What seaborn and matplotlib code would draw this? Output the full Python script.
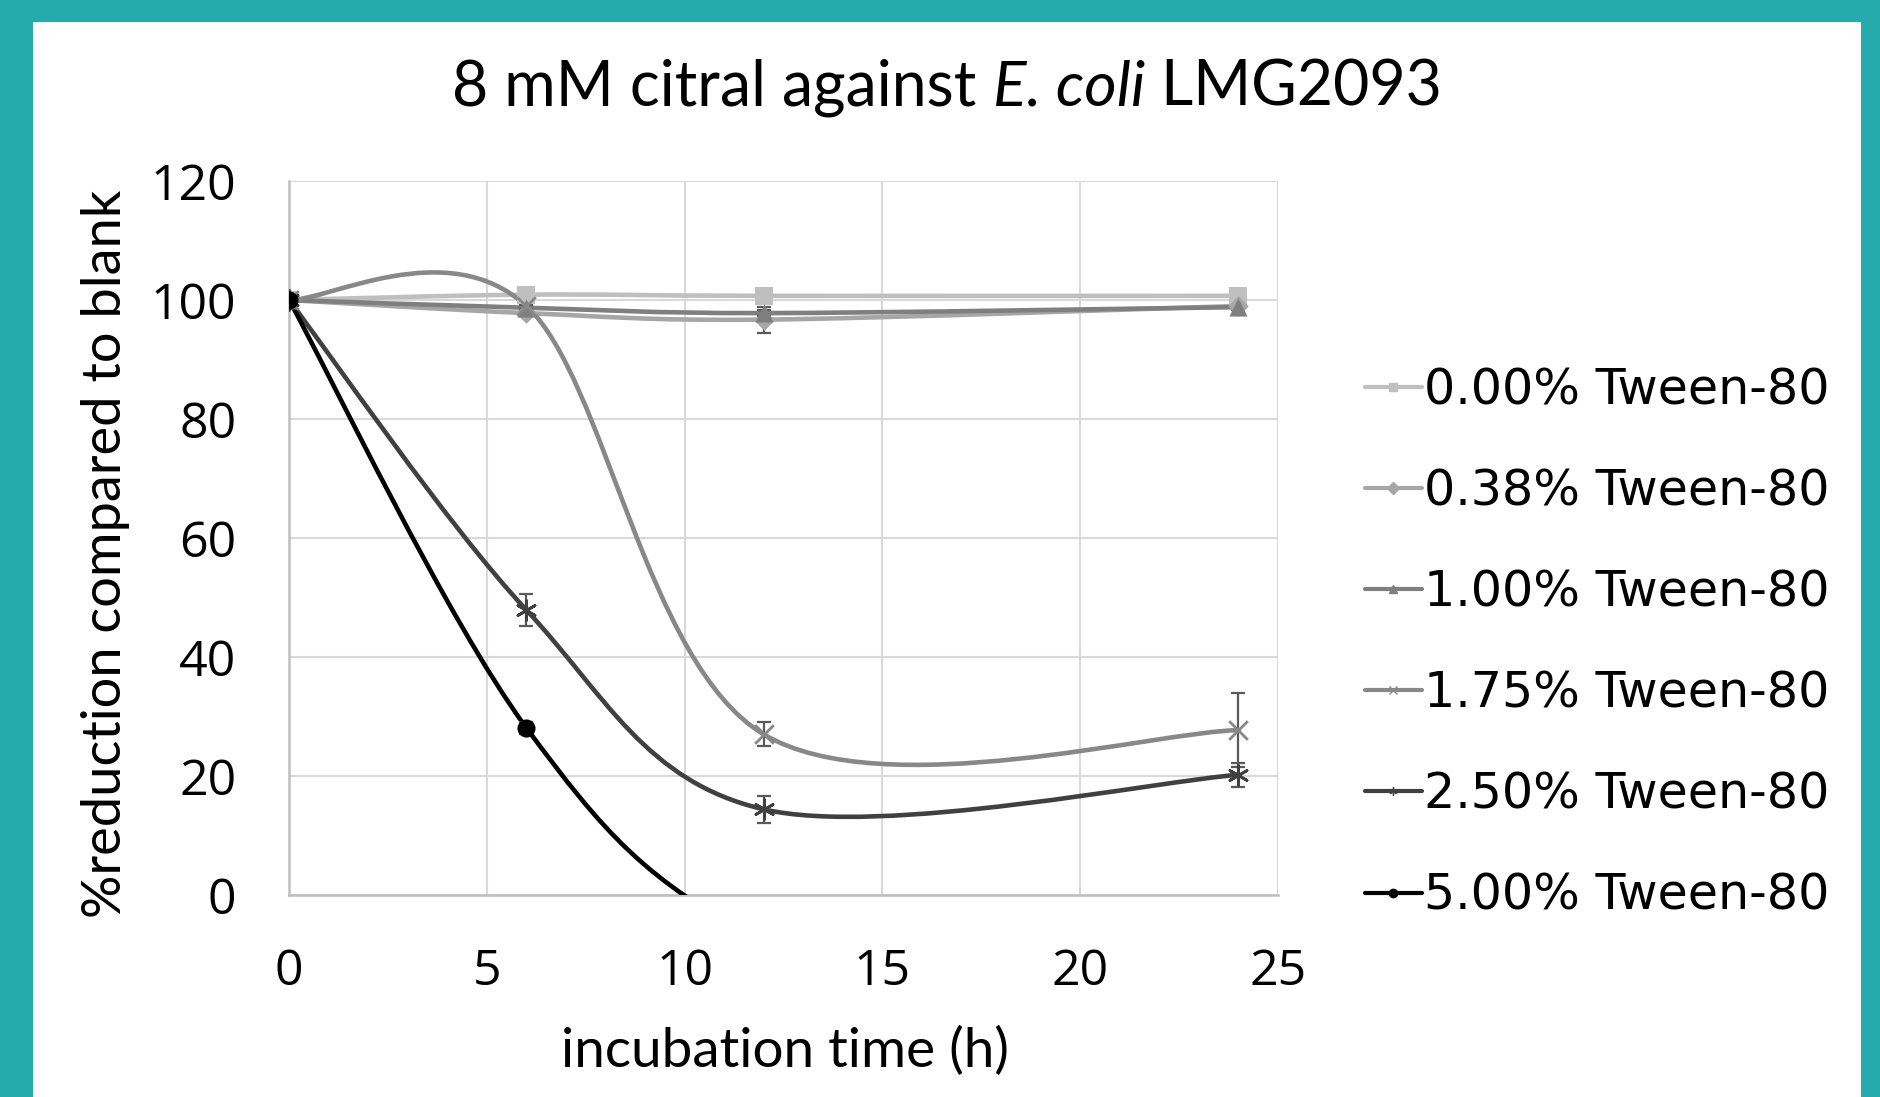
import numpy as np
import pandas as pd
import seaborn as sns
import matplotlib.pyplot as plt
from matplotlib.path import Path
from matplotlib.patches import PathPatch, Rectangle
from matplotlib.lines import Line2D

# Dados (% redução vs. branco)
tempo = [0, 6, 12, 24]
series = ["0.00% Tween-80", "0.38% Tween-80", "1.00% Tween-80",
          "1.75% Tween-80", "2.50% Tween-80", "5.00% Tween-80"]
t000 = [100, 100.9, 100.7, 100.7]
t038 = [100, 97.8, 96.7, 99.0]
t100 = [100, 98.7, 97.8, 98.8]
t175 = [100, 99.0, 27.0, 27.7]
t250 = [100, 47.9, 14.4, 20.2]
t500 = [100, 28.1, -8.0, -35.0]
err000 = [0, 0.3, 0.3, 0.3]
err038 = [0, 0.5, 2.2, 0.5]
err100 = [0, 0.5, 0.5, 0.5]
err175 = [0, 0.5, 2.0, 6.2]
err250 = [0, 2.7, 2.3, 2.0]
err500 = [0, 1.0, 0, 0]

valores = [t000, t038, t100, t175, t250, t500]
erros = [err000, err038, err100, err175, err250, err500]
cores = ["#BFBFBF", "#A6A6A6", "#7F7F7F", "#888888", "#404040", "#000000"]
marcadores = ["s", "D", "^", "x", (6, 2, 0), "o"]
tam = [150, 110, 170, 180, 200, 170]

dados = pd.DataFrame({
    "tempo": tempo * len(series),
    "valor": sum(valores, []),
    "erro": sum(erros, []),
    "serie": np.repeat(series, len(tempo)),
})

sns.set_theme(style="white")
plt.rcParams["font.family"] = ["Lato", "DejaVu Sans"]
plt.rcParams["text.color"] = "black"
plt.rcParams["xtick.labelcolor"] = "black"
plt.rcParams["ytick.labelcolor"] = "black"

W, H = 1881, 1097
fig = plt.figure(figsize=(W / 100, H / 100), dpi=100)
fig.patch.set_facecolor("#26ABAD")
fig.add_artist(Rectangle((33 / W, 0), (1861 - 33) / W, (H - 22) / H,
                         transform=fig.transFigure, facecolor="white",
                         edgecolor="none", zorder=0))

ax = fig.add_axes([289 / W, 1 - 895 / H, (1278 - 289) / W, (895 - 181) / H])
ax.set_facecolor("white")


# Linha suavizada estilo Excel (Bezier Catmull-Rom)
def caminho_suave(xs, ys):
    pts = np.column_stack([xs, ys]).astype(float)
    n = len(pts)
    verts = [pts[0]]
    codes = [Path.MOVETO]
    for i in range(n - 1):
        p0 = pts[i - 1] if i > 0 else pts[i]
        p1, p2 = pts[i], pts[i + 1]
        p3 = pts[i + 2] if i + 2 < n else pts[i + 1]
        verts += [p1 + (p2 - p0) / 6, p2 - (p3 - p1) / 6, p2]
        codes += [Path.CURVE4] * 3
    return Path(verts, codes)


for i, s in enumerate(series):
    d = dados[dados["serie"] == s]
    ax.add_patch(PathPatch(caminho_suave(d["tempo"], d["valor"]),
                           facecolor="none", edgecolor=cores[i], lw=3.3,
                           capstyle="round", zorder=3 + i))
    ax.errorbar(d["tempo"], d["valor"], yerr=d["erro"], fmt="none",
                ecolor="#5A5A5A", elinewidth=1.6, capsize=5, capthick=1.6,
                zorder=3 + i)

for i, s in enumerate(series):
    d = dados[dados["serie"] == s]
    sns.scatterplot(data=d, x="tempo", y="valor", ax=ax, marker=marcadores[i],
                    color=cores[i], s=tam[i], linewidth=2 if i in (3, 4) else 0,
                    edgecolor=cores[i], zorder=10 + i, legend=False)

ax.set_xlim(0, 25)
ax.set_ylim(0, 120)
ax.set_xticks(range(0, 26, 5))
ax.set_yticks(range(0, 121, 20))
ax.grid(True, color="#D9D9D9", lw=1.5)
ax.set_axisbelow(True)
for lado in ["top", "right"]:
    ax.spines[lado].set_visible(False)
for lado in ["left", "bottom"]:
    ax.spines[lado].set_color("#BFBFBF")
    ax.spines[lado].set_linewidth(1.8)
ax.tick_params(axis="x", length=0, pad=38, labelsize=36)
ax.tick_params(axis="y", length=0, pad=38, labelsize=36)
for lab in ax.get_xticklabels() + ax.get_yticklabels():
    lab.set_fontfamily("Open Sans")
ax.set_xlabel("")
ax.set_ylabel("")

fig.text(106 / W, 1 - 554 / H, "%reduction compared to blank", rotation=90,
         ha="center", va="center", fontsize=39)
fig.text(785 / W, 1 - 1051 / H, "incubation time (h)", ha="center",
         va="center", fontsize=39.5)

# Título com "E. coli" em itálico
partes = [("8 mM citral against ", "normal"), ("E. coli", "italic"),
          (" LMG2093", "normal")]
textos = [fig.text(0, 1 - 88 / H, p, style=st, fontsize=45, va="center")
          for p, st in partes]
fig.canvas.draw()
rend = fig.canvas.get_renderer()
larg = [t.get_window_extent(rend).width for t in textos]
x = 947 - sum(larg) / 2
for t, w in zip(textos, larg):
    t.set_x(x / W)
    x += w

handles = [Line2D([], [], color=cores[i], lw=3, marker=marcadores[i],
                  markersize=6, markeredgewidth=1) for i in range(len(series))]
ax.legend(handles, series, loc="center left",
          bbox_to_anchor=(1365 / W, 1 - 643 / H),
          bbox_transform=fig.transFigure, frameon=False,
          prop={"family": "DejaVu Sans", "size": 35.4},
          labelcolor="black",
          handlelength=1.15, handletextpad=0.05, labelspacing=1.08,
          borderpad=0, borderaxespad=0)

fig.savefig("out.png", dpi=100)
